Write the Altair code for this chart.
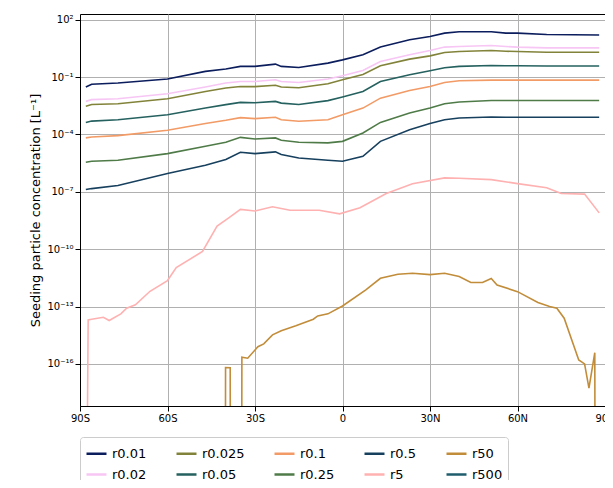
import pandas as pd
import altair as alt

# latitudes for the smooth upper lines
lats = [-88, -86, -77, -60, -47, -40, -35, -30, -23, -21, -15, -5, 0, 7, 13,
        23, 30, 35, 40, 51, 56, 60, 70, 88]

# log10 concentrations
r001 = [-1.52, -1.37, -1.31, -1.1, -0.7, -0.58, -0.44, -0.44, -0.32, -0.44, -0.5, -0.27, -0.1, 0.17, 0.57,
        0.95, 1.12, 1.3, 1.37, 1.37, 1.3, 1.3, 1.23, 1.2]
r002 = [-2.27, -2.18, -2.13, -1.87, -1.52, -1.31, -1.23, -1.23, -1.14, -1.23, -1.28, -1.1, -0.93, -0.65, -0.18,
        0.17, 0.39, 0.57, 0.6, 0.65, 0.6, 0.57, 0.53, 0.53]
r0025 = [-2.53, -2.43, -2.39, -2.13, -1.75, -1.57, -1.49, -1.5, -1.43, -1.52, -1.56, -1.35, -1.14, -0.86, -0.41,
         -0.06, 0.11, 0.29, 0.34, 0.39, 0.35, 0.34, 0.3, 0.3]
r005 = [-3.37, -3.3, -3.23, -2.97, -2.62, -2.44, -2.32, -2.34, -2.27, -2.36, -2.43, -2.23, -2.04, -1.75, -1.23,
        -0.88, -0.67, -0.51, -0.44, -0.39, -0.41, -0.41, -0.42, -0.42]
r01 = [-4.18, -4.13, -4.06, -3.78, -3.43, -3.26, -3.12, -3.17, -3.1, -3.23, -3.31, -3.23, -2.97, -2.62, -2.1,
       -1.7, -1.49, -1.28, -1.19, -1.16, -1.16, -1.16, -1.16, -1.16]
r025 = [-5.45, -5.4, -5.35, -5.0, -4.62, -4.41, -4.15, -4.24, -4.18, -4.3, -4.41, -4.44, -4.36, -3.92, -3.37,
        -2.88, -2.62, -2.39, -2.3, -2.22, -2.22, -2.22, -2.22, -2.22]
r05 = [-6.88, -6.83, -6.67, -6.04, -5.61, -5.31, -4.93, -5.0, -4.91, -5.05, -5.23, -5.35, -5.4, -5.14, -4.36,
       -3.75, -3.43, -3.23, -3.14, -3.09, -3.1, -3.1, -3.1, -3.1]

r5_lat = [-88, -87.2, -86, -82, -80, -76, -74, -71, -66, -60, -57, -48, -43, -39, -35, -30, -24, -18, -13, -8,
          -1, 6, 15, 24, 35, 40, 51, 60, 70, 75, 83, 88]
r5 = [-30, -13.7, -13.66, -13.56, -13.73, -13.38, -13.09, -12.91, -12.2, -11.64, -10.96, -10.12, -8.79, -8.36,
      -7.92, -8.0, -7.78, -7.96, -7.96, -7.96, -8.15, -7.83, -7.09, -6.58, -6.27, -6.29, -6.36, -6.57, -6.79,
      -7.09, -7.12, -8.1]

r50_lat = [-42, -40.2, -40.1, -38.5, -38.4, -34.6, -34.5, -32.5, -29, -27, -24, -21, -16, -10, -8.5, -5, 0, 8,
           13, 19, 24, 30, 35, 40, 44, 48, 51, 53, 60, 67, 71, 73.5, 76, 81, 83, 84.5, 86.5, 86.7]
r50 = [-30, -30, -16.19, -16.2, -30, -30, -15.65, -15.7, -15.1, -14.95, -14.48, -14.26, -14.0, -13.66, -13.49,
       -13.38, -12.97, -12.13, -11.52, -11.31, -11.26, -11.33, -11.26, -11.43, -11.74, -11.74, -11.53, -11.87,
       -12.22, -12.79, -13.0, -13.09, -13.61, -15.79, -16.0, -17.27, -15.41, -30]

# legend order (row-major, 5 columns) and colours
names = ["r0.01", "r0.025", "r0.1", "r0.5", "r50", "r0.02", "r0.05", "r0.25", "r5", "r500"]
colors = ["#0b1d5c", "#82833a", "#f29b66", "#17405e", "#c28d3a",
          "#f7c6f4", "#25615f", "#4f7b48", "#ffb1b1", "#1f5c6c"]

rows = []
for name, vals in [("r0.01", r001), ("r0.02", r002), ("r0.025", r0025), ("r0.05", r005),
                   ("r0.1", r01), ("r0.25", r025), ("r0.5", r05)]:
    rows += [{"lat": a, "v": 10 ** v, "run": name} for a, v in zip(lats, vals)]
rows += [{"lat": a, "v": 10 ** v, "run": "r5"} for a, v in zip(r5_lat, r5)]
rows += [{"lat": a, "v": 10 ** v, "run": "r50"} for a, v in zip(r50_lat, r50)]
df = pd.DataFrame(rows)

sup = {"-": "⁻", "0": "⁰", "1": "¹", "2": "²", "3": "³", "4": "⁴", "5": "⁵",
       "6": "⁶", "7": "⁷", "8": "⁸", "9": "⁹"}
exps = [2, -1, -4, -7, -10, -13, -16]
expr = "''"
for e in exps:
    s = "10" + "".join(sup[c] for c in str(e))
    expr = f"round(log(datum.value)/LN10)=={e} ? '{s}' : ({expr})"

xlab = "datum.value==0 ? '0' : (datum.value<0 ? (-datum.value)+'S' : datum.value+'N')"

chart = (
    alt.Chart(df)
    .mark_line(strokeWidth=1.6, clip=True)
    .encode(
        x=alt.X("lat:Q", scale=alt.Scale(domain=[-90, 90], nice=False),
                axis=alt.Axis(values=[-90, -60, -30, 0, 30, 60, 90], labelExpr=xlab, title=None)),
        y=alt.Y("v:Q", scale=alt.Scale(type="log", domain=[10 ** -18.2, 10 ** 2.3], nice=False),
                axis=alt.Axis(values=[10.0 ** e for e in exps], labelExpr=expr,
                              title="Seeding particle concentration [L⁻¹]")),
        color=alt.Color("run:N", scale=alt.Scale(domain=names, range=colors),
                        legend=alt.Legend(title=None, orient="bottom", columns=5, symbolType="stroke",
                                          symbolStrokeWidth=2.5, symbolSize=400, labelFontSize=13,
                                          columnPadding=24, rowPadding=2, strokeColor="#cccccc",
                                          padding=5, cornerRadius=3, offset=14)),
        order=alt.Order("lat:Q"),
    )
    .properties(width=525, height=392,
                padding={"left": 72, "top": 6, "right": 0, "bottom": 74},
                autosize=alt.AutoSizeParams(type="none"))
    .configure_view(stroke="black", strokeWidth=1)
    .configure_axis(grid=True, gridColor="#b0b0b0", labelFont="DejaVu Sans", titleFont="DejaVu Sans",
                    labelFontSize=10, titleFontSize=13, titleFontWeight="normal", labelColor="black",
                    tickColor="black", domainColor="black", labelFlush=False)
    .configure_legend(labelFont="DejaVu Sans")
)

chart.save("out.html", embed_options={"renderer": "svg", "actions": False})
